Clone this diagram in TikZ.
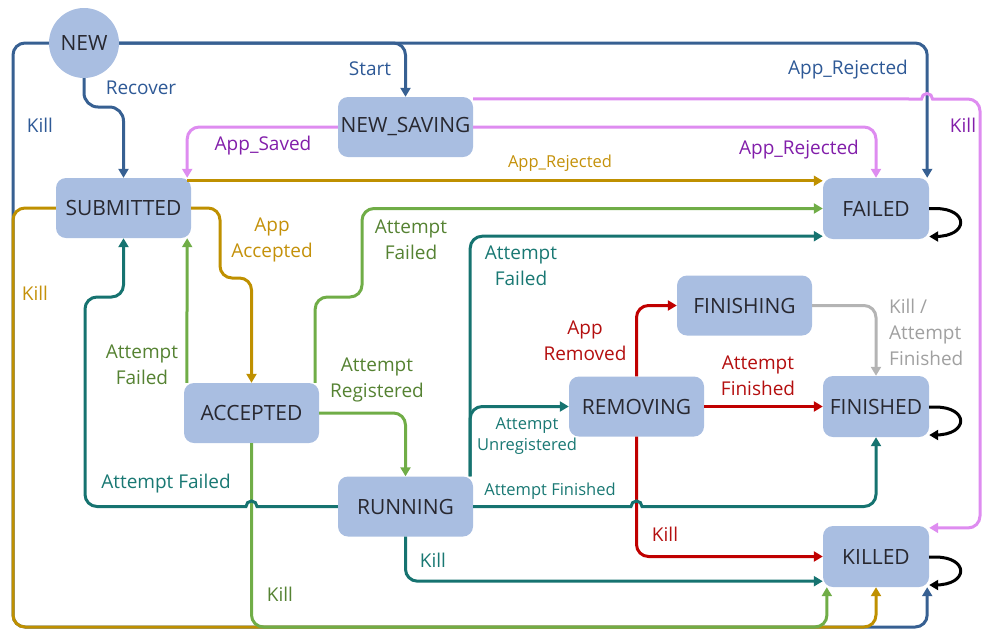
\documentclass[tikz,border=0pt]{standalone}
\usepackage{fontspec}
\setmainfont{Open Sans}
\usetikzlibrary{arrows.meta}
\definecolor{nodefill}{RGB}{169,190,225}
\definecolor{nodetext}{RGB}{40,40,48}
\definecolor{cblue}{RGB}{55,96,146}
\definecolor{cbluetxt}{RGB}{46,89,150}
\definecolor{cpink}{RGB}{222,140,240}
\definecolor{cpurple}{RGB}{130,30,170}
\definecolor{cgold}{RGB}{191,144,0}
\definecolor{cgoldtxt}{RGB}{196,145,10}
\definecolor{cgreen}{RGB}{112,173,71}
\definecolor{cgreentxt}{RGB}{85,130,50}
\definecolor{cteal}{RGB}{22,115,112}
\definecolor{ctealtxt}{RGB}{25,120,115}
\definecolor{cred}{RGB}{192,0,0}
\definecolor{credtxt}{RGB}{180,15,15}
\definecolor{cgray}{RGB}{180,180,180}
\definecolor{cgraytxt}{RGB}{160,160,160}
\tikzset{
  state/.style={fill=nodefill, rounded corners=10pt, minimum width=135pt, minimum height=60pt,
    inner sep=0pt, text=nodetext, font=\fontsize{21}{25}\selectfont},
  endstate/.style={state, minimum width=106pt, minimum height=61pt},
  tr/.style={line width=3pt, rounded corners=12pt, -{Triangle[length=9pt,width=10pt]}},
  loopline/.style={line width=3pt, black, -{Triangle[length=9pt,width=10pt]}},
  lbl/.style={align=center, font=\fontsize{19}{26}\selectfont, inner sep=0pt},
  slbl/.style={align=center, font=\fontsize{16.5}{21}\selectfont, inner sep=0pt},
}
\begin{document}
\begin{tikzpicture}[x=1pt,y=-1pt]
\useasboundingbox (0,0) rectangle (984,630);

% states
\node[circle, fill=nodefill, minimum size=70pt, inner sep=0pt, text=nodetext,
      font=\fontsize{21}{25}\selectfont] (new) at (84,43) {NEW};
\node[state] (saving) at (405.5,127) {NEW\_SAVING};
\node[state] (sub) at (123.5,208) {SUBMITTED};
\node[state] (acc) at (251.5,413) {ACCEPTED};
\node[state] (run) at (405.5,506.5) {RUNNING};
\node[state] (rem) at (636.5,406.5) {REMOVING};
\node[state] (fin) at (744.5,305.5) {FINISHING};
\node[endstate] (failed) at (876,208.5) {FAILED};
\node[endstate] (finished) at (876,406.5) {FINISHED};
\node[endstate] (killed) at (876,556.5) {KILLED};

% NEW transitions (blue)
\draw[tr, cblue] (new.west) -| (13,627) -| ([shift={(-2,0)}]killed.south east);
\draw[tr, cblue] (new.east) -| (saving.north);
\draw[tr, cblue] (new.east) -| ([shift={(-2,0)}]failed.north east);
\draw[tr, cblue, rounded corners=14pt] (new.south) -- (84,107) -- (123.5,107) -- (sub.north);

% SUBMITTED transitions (gold)
\draw[tr, cgold] (sub.west) -| (13,627) -| (killed.south);
\draw[tr, cgold] ([shift={(-4,3)}]sub.north east) -- ([shift={(0,3)}]failed.north west);
\draw[tr, cgold] (sub.east) -| (220,278) -| (acc.north);

% ACCEPTED transitions (green)
\draw[tr, cgreen] (acc.south) |- (827,627) -- ([shift={(4,0)}]killed.south west);
\draw[tr, cgreen] ([shift={(3,0)}]acc.north west) -- ([shift={(-4,0)}]sub.south east);
\draw[tr, cgreen] ([shift={(-4,0)}]acc.north east) |- (362,297) |- (failed.west);
\draw[tr, cgreen] (acc.east) -| (run.north);

% REMOVING transitions (red)
\draw[tr, cred] (rem.north) |- (fin.west);
\draw[tr, cred] (rem.east) -- (finished.west);
\draw[tr, cred] (rem.south) |- (killed.west);

% RUNNING transitions (teal)
\draw[tr, cteal, sharp corners] (run.west) -- (257,506.5) arc[start angle=0, end angle=-180, radius=5.5]
   -- (230,506.5) [rounded corners=12pt] -| (85,297) -| (sub.south);
\draw[tr, cteal] ([shift={(-3,0)}]run.north east) |- ([shift={(0,-3)}]failed.south west);
\draw[tr, cteal] ([shift={(-3,0)}]run.north east) |- (rem.west);
\draw[tr, cteal, sharp corners] (run.east) -- (631,506.5) arc[start angle=180, end angle=360, radius=5.5]
   -- (670,506.5) [rounded corners=12pt] -| (finished.south);
\draw[tr, cteal] (run.south) |- ([shift={(0,-6)}]killed.south west);

% FINISHING transition (gray)
\draw[tr, cgray] (fin.east) -| (finished.north);

% NEW_SAVING transitions (pink)
\draw[tr, cpink] (saving.west) -| ([shift={(-4,0)}]sub.north east);
\draw[tr, cpink] (saving.east) -| (failed.north);
\draw[tr, cpink, sharp corners] ([shift={(0,2)}]saving.north east) -- (921.5,99)
   arc[start angle=180, end angle=360, radius=5.5] -- (945,99) [rounded corners=12pt] -| (980,528)
   -- ([shift={(0,2)}]killed.north east);

% self loops
\draw[loopline] (failed.east) -- ++(6,0) to[out=0,in=0,distance=34pt] ++(0,28) -- ++(-6,0);
\draw[loopline] ([shift={(0,0.5)}]finished.east) -- ++(6,0) to[out=0,in=0,distance=34pt] ++(0,28) -- ++(-6,0);
\draw[loopline] ([shift={(0,0.5)}]killed.east) -- ++(6,0) to[out=0,in=0,distance=34pt] ++(0,28) -- ++(-6,0);

% labels
\node[lbl, text=cbluetxt] (lstart) at (370,69) {Start};
\node[lbl, text=cbluetxt] (lrej1) at (848,70) {App\_Rejected};
\node[lbl, text=cbluetxt] (lrec) at (141,88) {Recover};
\node[lbl, text=cbluetxt] (lkill1) at (40,125) {Kill};
\node[lbl, text=cpurple] (lsaved) at (263,146) {App\_Saved};
\node[lbl, text=cpurple] (lrej2) at (799,150) {App\_Rejected};
\node[lbl, text=cpurple] (lkill2) at (963,125) {Kill};
\node[slbl, text=cgoldtxt] (lrej3) at (560,163) {App\_Rejected};
\node[lbl, text=cgoldtxt] (lacc) at (272,240) {App\\Accepted};
\node[lbl, text=cgoldtxt] (lkill3) at (35,293) {Kill};
\node[lbl, text=cgreentxt] (laf1) at (142,365) {Attempt\\Failed};
\node[lbl, text=cgreentxt] (laf2) at (411,240) {Attempt\\Failed};
\node[lbl, text=cgreentxt] (lreg) at (377,380) {Attempt\\Registered};
\node[lbl, text=cgreentxt] (lkill4) at (280,594) {Kill};
\node[lbl, text=ctealtxt] (laf3) at (166,484) {Attempt Failed};
\node[lbl, text=ctealtxt] (laf4) at (521,266) {Attempt\\Failed};
\node[slbl, text=ctealtxt] (lunreg) at (527,436) {Attempt\\Unregistered};
\node[slbl, text=ctealtxt] (lfin1) at (550,491) {Attempt Finished};
\node[lbl, text=ctealtxt] (lkill5) at (433,560) {Kill};
\node[lbl, text=credtxt] (lrem) at (585,341) {App\\Removed};
\node[lbl, text=credtxt] (lfin2) at (758,376) {Attempt\\Finished};
\node[lbl, text=credtxt] (lkill6) at (665,534) {Kill};
\node[lbl, text=cgraytxt, align=left, anchor=west] (lfin3) at (889,332) {Kill /\\Attempt\\Finished};
\end{tikzpicture}
\end{document}
